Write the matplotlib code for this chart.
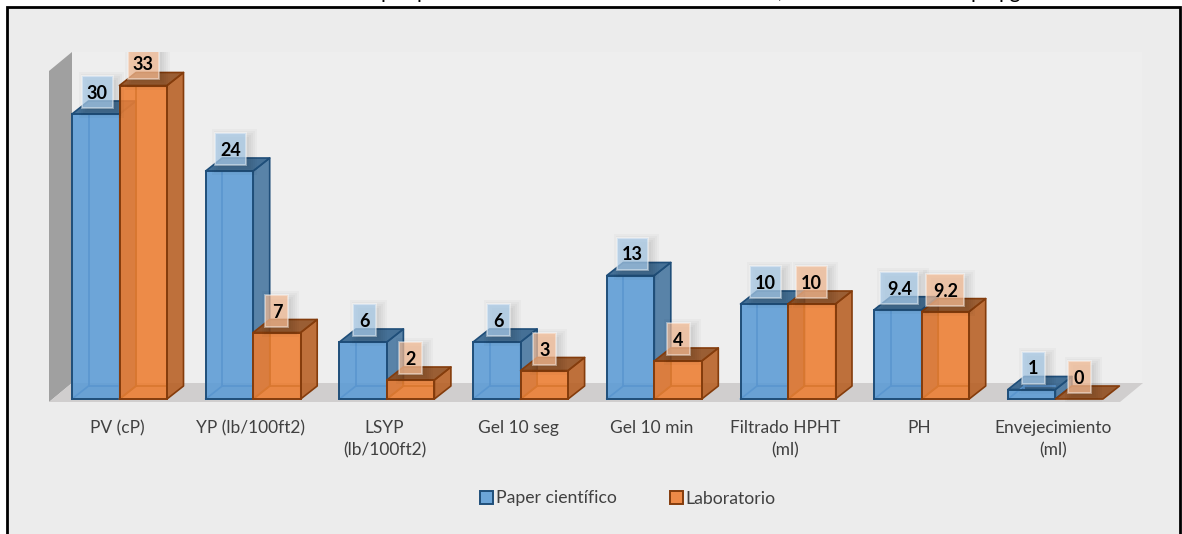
import matplotlib
matplotlib.use('Agg')
import matplotlib.pyplot as plt
from matplotlib.colors import to_rgba
from matplotlib.patches import Patch, Polygon, Rectangle

categorias = ['PV (cP)', 'YP (lb/100ft2)', 'LSYP\n(lb/100ft2)', 'Gel 10 seg', 'Gel 10 min',
              'Filtrado HPHT\n(ml)', 'PH', 'Envejecimiento\n(ml)']
paper = [30, 24, 6, 6, 13, 10, 9.4, 1]
laboratorio = [33, 7, 2, 3, 4, 10, 9.2, 0]
# lo unico que se ve del titulo (esta cortado arriba)
titulo_chars = ['p', 'p', ',', 'p', 'pg']
titulo_x = [381, 416, 778, 970, 998]

W, H = 1182, 534
PX_X = 133.7  # pixeles por categoria
PX_Y = 9.5    # pixeles por unidad
DX, DY = 16.5 / PX_X, 13 / PX_Y
ANCHO = 47.5 / PX_X

plt.rcParams['font.family'] = ['Lato', 'DejaVu Sans']
fig = plt.figure(figsize=(W / 100, H / 100), dpi=100, facecolor='white')

# panel gris con borde negro (sin borde abajo, la imagen esta cortada)
fig.add_artist(Rectangle((7 / W, -0.02), (1180 - 7) / W, (H - 7) / H + 0.02, transform=fig.transFigure,
                         fc='#ececec', ec='black', lw=2, zorder=-1))
for c, xc in zip(titulo_chars, titulo_x):
    fig.text(xc / W, 1 + 1.5 / H, c, fontsize=15, color='black', ha='left', va='baseline')

# ejes: x 49..1143 px, y 402..52 px, el cero queda en 399 px
ax = fig.add_axes([49 / W, (H - 402) / H, (1143 - 49) / W, (402 - 52) / H])
ax.set_xlim((49 - 119.5) / PX_X, (1143 - 119.5) / PX_X)
ax.set_ylim((399 - 402) / PX_Y, (399 - 52) / PX_Y)
ax.patch.set_visible(False)
for s in ax.spines.values():
    s.set_visible(False)
x0, x1 = ax.get_xlim()
y0, y1 = ax.get_ylim()
sx, sy = 23 / PX_X, 19 / PX_Y  # profundidad de piso y pared

# pared del fondo, pared izquierda y piso
ax.add_patch(Rectangle((x0 + sx, y0 + sy), x1 - x0 - sx, y1 - y0 - sy, fc='#eeeeee', ec='none', zorder=0))
ax.plot([x1, x1], [y0 + sy, y1], color='#e4e4e4', lw=1, zorder=0)
ax.add_patch(Polygon([(x0, y0), (x0, y1 - sy), (x0 + sx, y1), (x0 + sx, y0 + sy)], fc='#a0a0a0', ec='none', zorder=0))
ax.add_patch(Polygon([(x0, y0), (x0 + sx, y0 + sy), (x1, y0 + sy), (x1 - sx, y0)], fc='#d0cece', ec='none', zorder=0))


def barra(xi, v, color, lado, tope, borde, linea, z):
    # caras de la barra 3D, de atras hacia adelante
    a = 0.88
    xf = xi + ANCHO
    if v > 0:
        ax.add_patch(Polygon([(xf, 0), (xf + DX, DY), (xf + DX, v + DY), (xf, v)],
                             fc=to_rgba(lado, a), ec=borde, lw=1.2, joinstyle='round', zorder=z))
    ax.add_patch(Polygon([(xi, v), (xi + DX, v + DY), (xf + DX, v + DY), (xf, v)],
                         fc=to_rgba(tope, a), ec=borde, lw=1.2, joinstyle='round', zorder=z))
    if v > 0:
        ax.add_patch(Rectangle((xi, 0), ANCHO, v, fc=to_rgba(color, a), ec='none', zorder=z))
        # aristas de atras, se ven a traves de la cara frontal
        ax.plot([xi + DX, xi + DX], [min(v, v + DY), DY], color=linea, lw=1.2, zorder=z)
        ax.plot([xi + DX, xf], [DY, DY], color=linea, lw=1.2, zorder=z)
        ax.plot([xi, xi + DX], [0, DY], color=linea, lw=1.2, zorder=z)
        ax.add_patch(Rectangle((xi, 0), ANCHO, v, fc='none', ec=borde, lw=1.4, zorder=z))


def etiqueta(xc, v, fondo, a):
    txt = f'{v:g}'
    w = {1: 23, 2: 31, 3: 38}[len(txt)] / PX_X
    h = 32 / PX_Y
    yc = v + 22 / PX_Y
    # sombra difusa
    for g in (-1, 1, 3, 5, 7):
        ax.add_patch(Rectangle((xc - w / 2 + (4 - g) / PX_X, yc - h / 2 - (3 + g) / PX_Y),
                               w + 2 * g / PX_X, h + 2 * g / PX_Y, fc=(0, 0, 0, 0.022), ec='none', zorder=9))
    ax.add_patch(Rectangle((xc - w / 2, yc - h / 2), w, h, fc=to_rgba(fondo, a),
                           ec=to_rgba('white', 0.4), lw=1.4, zorder=10))
    ax.text(xc, yc, txt, fontsize=13, fontweight='bold', color='black', ha='center', va='center_baseline', zorder=11)


for i in range(len(categorias)):
    barra(i - ANCHO, paper[i], '#5b9bd5', '#44749f', '#2e5f8a', '#1f4e79', '#5a96cf', 3 + i * 0.1)
    barra(i, laboratorio[i], '#ed7d31', '#b85f22', '#8f4a1a', '#843c0c', '#d9772f', 3.05 + i * 0.1)
    etiqueta(i - ANCHO / 2 + 1.5 / PX_X, paper[i], '#a9cbe9', 0.72)
    etiqueta(i + ANCHO / 2, laboratorio[i], '#f6bd96', 0.72)

ax.set_xticks([i - 2.5 / PX_X for i in range(len(categorias))])
ax.set_xticklabels(categorias, fontsize=12.5, color='#404040', linespacing=1.5)
ax.set_yticks([])
ax.tick_params(axis='x', length=0, pad=13)

handles = [Patch(fc='#6ca5d8', ec='#1f4e79', lw=1.4), Patch(fc='#ee8a47', ec='#843c0c', lw=1.4)]
fig.legend(handles, ['Paper científico', 'Laboratorio'], loc='center', bbox_to_anchor=(628 / W, (H - 498.5) / H),
           ncol=2, frameon=False, fontsize=12.7, labelcolor='#404040',
           handlelength=0.75, handleheight=0.75, handletextpad=0.15, columnspacing=3.0)

fig.savefig('out.png', dpi=100)
